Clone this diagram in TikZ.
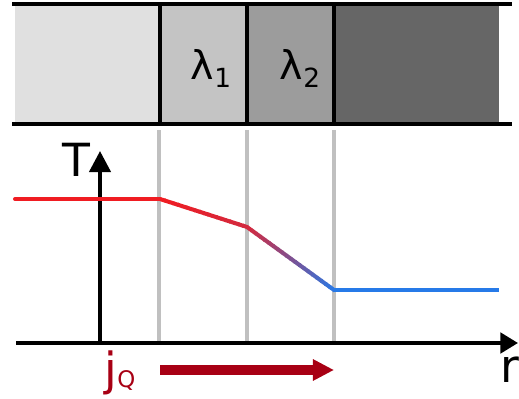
\documentclass[tikz,border=0pt]{standalone}
\usepackage{fontspec}
\setmainfont{DejaVu Sans}
\usepackage{xcolor}
\usetikzlibrary{arrows.meta,calc}

\definecolor{hotred}{RGB}{240,28,34}
\definecolor{coldblue}{RGB}{38,122,232}
\definecolor{fluxred}{RGB}{168,0,20}
\definecolor{guide}{RGB}{192,192,192}

\begin{document}
\begin{tikzpicture}[
  x=0.02cm, y=0.02cm,
  wall/.style={line width=2.6pt, black},
  guideline/.style={line width=2.1pt, guide},
  axis/.style={line width=2.3pt, black},
  temp/.style={line width=2.3pt},
  lbl/.style={inner sep=0pt, font=\fontsize{26}{30}\selectfont},
  lam/.style={inner sep=0pt, font=\fontsize{22.5}{26}\selectfont}
]
\useasboundingbox (0,0) rectangle (519,398);

% ── Layers ──
\fill[gray!24] (15,274) rectangle (160,394);
\fill[gray!46] (160,274) rectangle (247,394);
\fill[gray!78] (247,274) rectangle (334,394);
\fill[black!60] (334,274) rectangle (499,394);
\draw[wall] (12,394) -- (512,394);
\draw[wall] (12,274) -- (512,274);
\draw[wall] (160,274) -- (160,394);
\draw[wall] (247,274) -- (247,394);
\draw[wall] (334,274) -- (334,394);

\node[lam, anchor=base] (lam1) at (211,318)
     {λ\raisebox{-4.5pt}{\fontsize{15}{15}\selectfont 1}};
\node[lam, anchor=base] (lam2) at (300,318)
     {λ\raisebox{-4.5pt}{\fontsize{15}{15}\selectfont 2}};

% ── Interface guides ──
\draw[guideline] (159,55) -- (159,268);
\draw[guideline] (247,55) -- (247,268);
\draw[guideline] (334,55) -- (334,268);

% ── Axes ──
\coordinate (orig) at (100,55);
\coordinate (xleft) at (16,55);
\coordinate (xend) at (518,55);
\coordinate (yend) at (100,247);
\draw[axis, -{Triangle[length=10pt, width=11.5pt]}] (xleft) -- (xend);
\draw[axis, -{Triangle[length=12pt, width=12pt]}] (orig) -- (yend);
\node[lbl, anchor=base] (tlab) at (76,221) {T};
\node[lbl, anchor=base west] (rlab) at (500,16) {r};

% ── Temperature profile ──
\coordinate (t0) at (15,199);
\coordinate (t1) at (160,199);
\coordinate (t2) at (247,171);
\coordinate (t3) at (334,108);
\coordinate (t4) at (499,108);
\draw[temp, hotred, line cap=round] (t0) -- (t1);
\foreach \i in {0,...,19}{
  \pgfmathsetmacro{\p}{100-0.75*\i}
  \draw[temp, hotred!\p!coldblue]
       ($(t1)!\i/20!(t2)$) -- ($(t1)!\i/20+0.06!(t2)$);
}
\foreach \i in {0,...,19}{
  \pgfmathsetmacro{\p}{85-4.25*\i}
  \draw[temp, hotred!\p!coldblue]
       ($(t2)!\i/20!(t3)$) -- ($(t2)!\i/20+0.06!(t3)$);
}
\draw[temp, coldblue] (t3) -- (t4);

% ── Heat flux ──
\coordinate (qa) at (160,28);
\coordinate (qb) at (334,28);
\draw[line width=5.7pt, fluxred, -{Triangle[length=12pt, width=11.5pt]}] (qa) -- (qb);
\node[lbl, anchor=base, text=fluxred] (jq) at (120,13)
     {j\raisebox{-1.7pt}{\fontsize{13}{13}\selectfont Q}};

\end{tikzpicture}
\end{document}
